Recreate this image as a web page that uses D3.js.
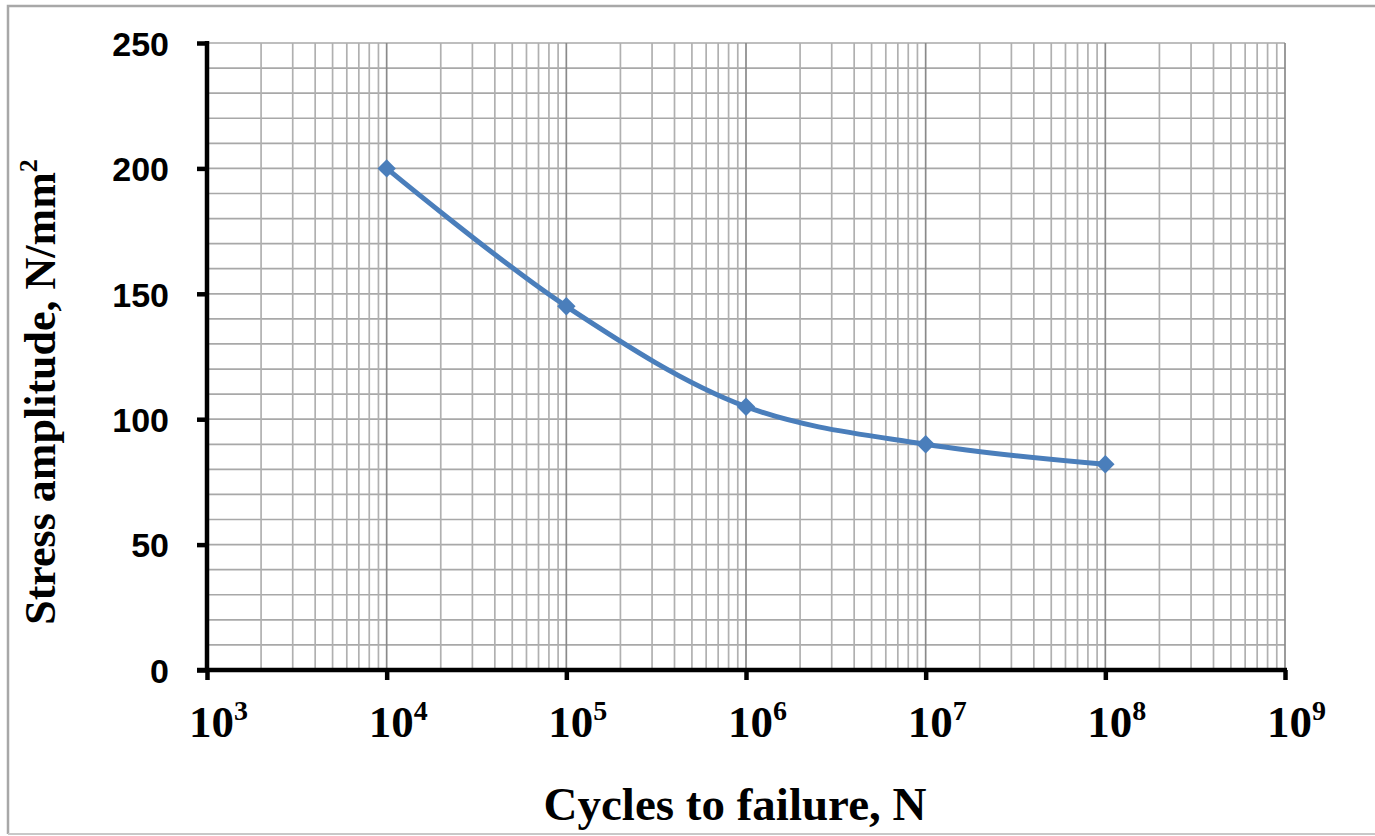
<!DOCTYPE html>
<html>
<head>
<meta charset="utf-8">
<script src="https://cdn.jsdelivr.net/npm/d3@7"></script>
<style>
  html, body { margin: 0; padding: 0; background: #fff; }
  svg { display: block; }
</style>
</head>
<body>
<svg id="chart" width="1375" height="836"></svg>
<script>
// S-N curve data: cycles to failure vs stress amplitude
const cycles = [1e4, 1e5, 1e6, 1e7, 1e8];
const stress = [200, 145, 105, 90, 82];
const xDecadeExponents = [3, 4, 5, 6, 7, 8, 9];
const yTickValues = [0, 50, 100, 150, 200, 250];

const svg = d3.select("#chart");
const W = 1375, H = 836;
const margin = { left: 207, top: 43, right: 1375 - 1285, bottom: 836 - 670 };

// outer frame
svg.append("path")
  .attr("d", `M8,${H - 2} V6 H${W}`)
  .attr("fill", "none").attr("stroke", "#a8a8a8").attr("stroke-width", 2.5);
svg.append("line")
  .attr("x1", 8).attr("x2", W).attr("y1", H - 2).attr("y2", H - 2)
  .attr("stroke", "#c8c8c8").attr("stroke-width", 2);

const x = d3.scaleLog().domain([1e3, 1e9]).range([margin.left, W - margin.right]);
const y = d3.scaleLinear().domain([0, 250]).range([H - margin.bottom, margin.top]);

const grid = svg.append("g");
// horizontal grid every 10 units
d3.range(10, 251, 10).forEach(v => {
  grid.append("line")
    .attr("x1", x.range()[0]).attr("x2", x.range()[1])
    .attr("y1", y(v)).attr("y2", y(v))
    .attr("stroke", "#a8a8a8").attr("stroke-width", 1.7);
});
// vertical grid: decades plus 2..9 minors
for (let e = 3; e < 9; e++) {
  for (let m = 1; m <= 9; m++) {
    const v = m * Math.pow(10, e);
    if (v === 1e3) continue;
    grid.append("line")
      .attr("x1", x(v)).attr("x2", x(v))
      .attr("y1", y(0)).attr("y2", y(250))
      .attr("stroke", m === 1 ? "#8a8a8a" : "#b0b0b0").attr("stroke-width", 1.7);
  }
}
grid.append("line")
  .attr("x1", x(1e9)).attr("x2", x(1e9))
  .attr("y1", y(0)).attr("y2", y(250))
  .attr("stroke", "#8a8a8a").attr("stroke-width", 1.7);

// y axis
const yAxis = d3.axisLeft(y).tickValues(yTickValues).tickSize(10).tickPadding(28);
const gy = svg.append("g").attr("transform", `translate(${x.range()[0]},0)`).call(yAxis);
gy.select(".domain").attr("stroke", "#000").attr("stroke-width", 4.5)
  .attr("d", `M0,${y(250) - 2}V${y(0) + 2}`);
gy.selectAll(".tick line").attr("stroke", "#000").attr("stroke-width", 4.5);
gy.selectAll(".tick text")
  .attr("font-family", "'Liberation Sans', Arial, sans-serif")
  .attr("font-weight", "bold").attr("font-size", 34).attr("fill", "#000")
  .attr("dy", "0.36em");

// x axis
const xAxis = d3.axisBottom(x).tickValues(xDecadeExponents.map(e => Math.pow(10, e)))
  .tickSize(10).tickFormat("");
const gx = svg.append("g").attr("transform", `translate(0,${y(0)})`).call(xAxis);
gx.select(".domain").attr("stroke", "#000").attr("stroke-width", 4.5)
  .attr("d", `M${x.range()[0] - 10},0H${x.range()[1] + 2}`);
gx.selectAll(".tick line").attr("stroke", "#000").attr("stroke-width", 4.5);

// decade labels as 10 with superscript exponent
const xl = svg.append("g");
xDecadeExponents.forEach(e => {
  const t = xl.append("text")
    .attr("x", x(Math.pow(10, e)) - 18).attr("y", 737)
    .attr("font-family", "'Liberation Serif', 'Times New Roman', serif")
    .attr("font-weight", "bold").attr("font-size", 45).attr("fill", "#000");
  t.append("tspan").text("10");
  t.append("tspan").attr("font-size", 28).attr("dy", -17).text(e);
});

// axis titles
svg.append("text")
  .attr("x", 735).attr("y", 820).attr("text-anchor", "middle")
  .attr("font-family", "'Liberation Serif', 'Times New Roman', serif")
  .attr("font-weight", "bold").attr("font-size", 47).attr("fill", "#000")
  .text("Cycles to failure, N");

const yt = svg.append("text")
  .attr("transform", "translate(55,392) rotate(-90)")
  .attr("text-anchor", "middle")
  .attr("font-family", "'Liberation Serif', 'Times New Roman', serif")
  .attr("font-weight", "bold").attr("font-size", 44).attr("fill", "#000");
yt.append("tspan").text("Stress amplitude, N/mm");
yt.append("tspan").attr("font-size", 26).attr("dy", -18).text("2");

// data series
const pts = cycles.map((c, i) => [x(c), y(stress[i])]);
const line = d3.line().curve(d3.curveCatmullRom.alpha(0.5));
svg.append("path")
  .attr("d", line(pts))
  .attr("fill", "none").attr("stroke", "#4a7ebb").attr("stroke-width", 5)
  .attr("stroke-linejoin", "round");

const sym = d3.symbol().type(d3.symbolSquare).size(170);
svg.append("g").selectAll("path")
  .data(pts).join("path")
  .attr("d", sym)
  .attr("transform", d => `translate(${d[0]},${d[1]}) rotate(45)`)
  .attr("fill", "#4a7ebb");
</script>
</body>
</html>
